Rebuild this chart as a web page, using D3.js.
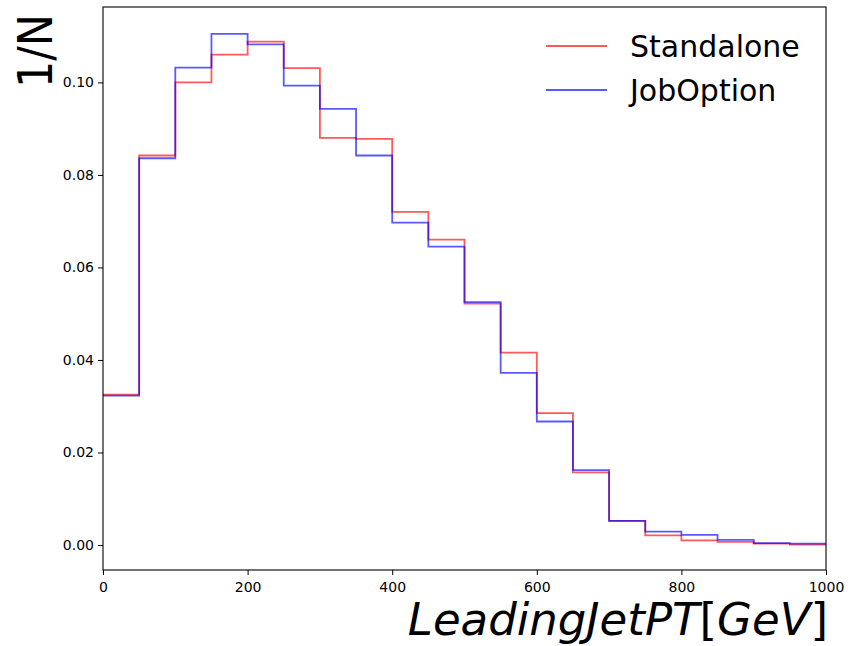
<!DOCTYPE html>
<html>
<head>
<meta charset="utf-8">
<script src="https://cdn.jsdelivr.net/npm/d3@7"></script>
<style>
  body { margin: 0; background: #fff; }
  text { font-family: "DejaVu Sans", sans-serif; }
</style>
</head>
<body>
<div id="chart"></div>
<script>
// bin edges 0..1000 step 50
const binEdges = [0, 50, 100, 150, 200, 250, 300, 350, 400, 450, 500, 550, 600, 650, 700, 750, 800, 850, 900, 950, 1000];
const standalone = [0.0325, 0.0842, 0.1000, 0.1060, 0.1088, 0.1031, 0.0880, 0.0878, 0.0720, 0.0660,
                    0.0522, 0.0416, 0.0285, 0.0157, 0.0052, 0.0021, 0.0010, 0.0007, 0.0003, 0.0001];
const jobOption  = [0.0323, 0.0836, 0.1032, 0.1105, 0.1082, 0.0993, 0.0943, 0.0842, 0.0697, 0.0645,
                    0.0525, 0.0372, 0.0267, 0.0162, 0.0052, 0.0029, 0.0022, 0.0011, 0.0004, 0.0003];
const xTicks = [0, 200, 400, 600, 800, 1000];
const yTicks = [0.00, 0.02, 0.04, 0.06, 0.08, 0.10];
const seriesNames = ["Standalone", "JobOption"];
const seriesColors = ["rgba(255,0,0,0.65)", "rgba(0,0,255,0.65)"];

const MARGINS = {top: 7, right: 22, bottom: 76, left: 103};
const W = 848, H = 646;
const WIDTH = W - MARGINS.left - MARGINS.right;
const HEIGHT = H - MARGINS.top - MARGINS.bottom;

const svg = d3.select("#chart").append("svg")
    .attr("width", W).attr("height", H);
const g = svg.append("g")
    .attr("transform", `translate(${MARGINS.left},${MARGINS.top})`);

const x = d3.scaleLinear().domain([0, 1000]).range([0, WIDTH]);
const y = d3.scaleLinear().domain([-0.0054, 0.1163]).range([HEIGHT, 0]);

svg.append("defs").append("clipPath").attr("id", "clip")
  .append("rect").attr("width", WIDTH).attr("height", HEIGHT);

const line = d3.line()
    .x(d => x(d[0]))
    .y(d => y(d[1]))
    .curve(d3.curveStepAfter);

[standalone, jobOption].forEach((vals, i) => {
  const pts = vals.map((v, k) => [binEdges[k], v]);
  pts.push([binEdges[binEdges.length - 1], vals[vals.length - 1]]);
  g.append("path")
    .datum(pts)
    .attr("clip-path", "url(#clip)")
    .attr("fill", "none")
    .attr("stroke", seriesColors[i])
    .attr("stroke-width", 1.8)
    .attr("d", line);
});

const xAxis = g.append("g")
    .attr("transform", `translate(0,${HEIGHT})`)
    .call(d3.axisBottom(x).tickValues(xTicks).tickFormat(d3.format("d")).tickSize(5).tickPadding(7));
const yAxis = g.append("g")
    .call(d3.axisLeft(y).tickValues(yTicks).tickFormat(d3.format(".2f")).tickSize(5).tickPadding(4));
[xAxis, yAxis].forEach(a => {
  a.select(".domain").remove();
  a.selectAll("text").style("font-size", "14px").attr("fill", "#000")
    .style("font-family", "'DejaVu Sans', sans-serif");
  a.selectAll("line").attr("stroke", "#000").attr("stroke-width", 1);
});

g.append("rect")
    .attr("width", WIDTH).attr("height", HEIGHT)
    .attr("fill", "none").attr("stroke", "#000").attr("stroke-width", 1.1);

// legend
const legend = g.append("g").attr("transform", `translate(${546 - MARGINS.left},${46 - MARGINS.top})`);
seriesNames.forEach((name, i) => {
  const row = legend.append("g").attr("transform", `translate(0,${i * 44})`);
  row.append("line").attr("x1", 0).attr("x2", 61).attr("y1", 0).attr("y2", 0)
    .attr("stroke", seriesColors[i]).attr("stroke-width", 1.8);
  row.append("text").attr("x", 84).attr("y", 11).style("font-size", "30px").text(name);
});

// axis labels
svg.append("text")
    .attr("transform", "translate(52,14) scale(1.12,1) rotate(-90)")
    .attr("text-anchor", "end")
    .style("font-size", "43px")
    .text("1/N");

const xl = svg.append("text")
    .attr("x", 828).attr("y", 635)
    .attr("text-anchor", "end")
    .style("font-size", "45px");
xl.append("tspan").style("font-style", "italic").text("LeadingJetPT");
xl.append("tspan").text("[");
xl.append("tspan").style("font-style", "italic").text("GeV");
xl.append("tspan").text("]");
</script>
</body>
</html>
